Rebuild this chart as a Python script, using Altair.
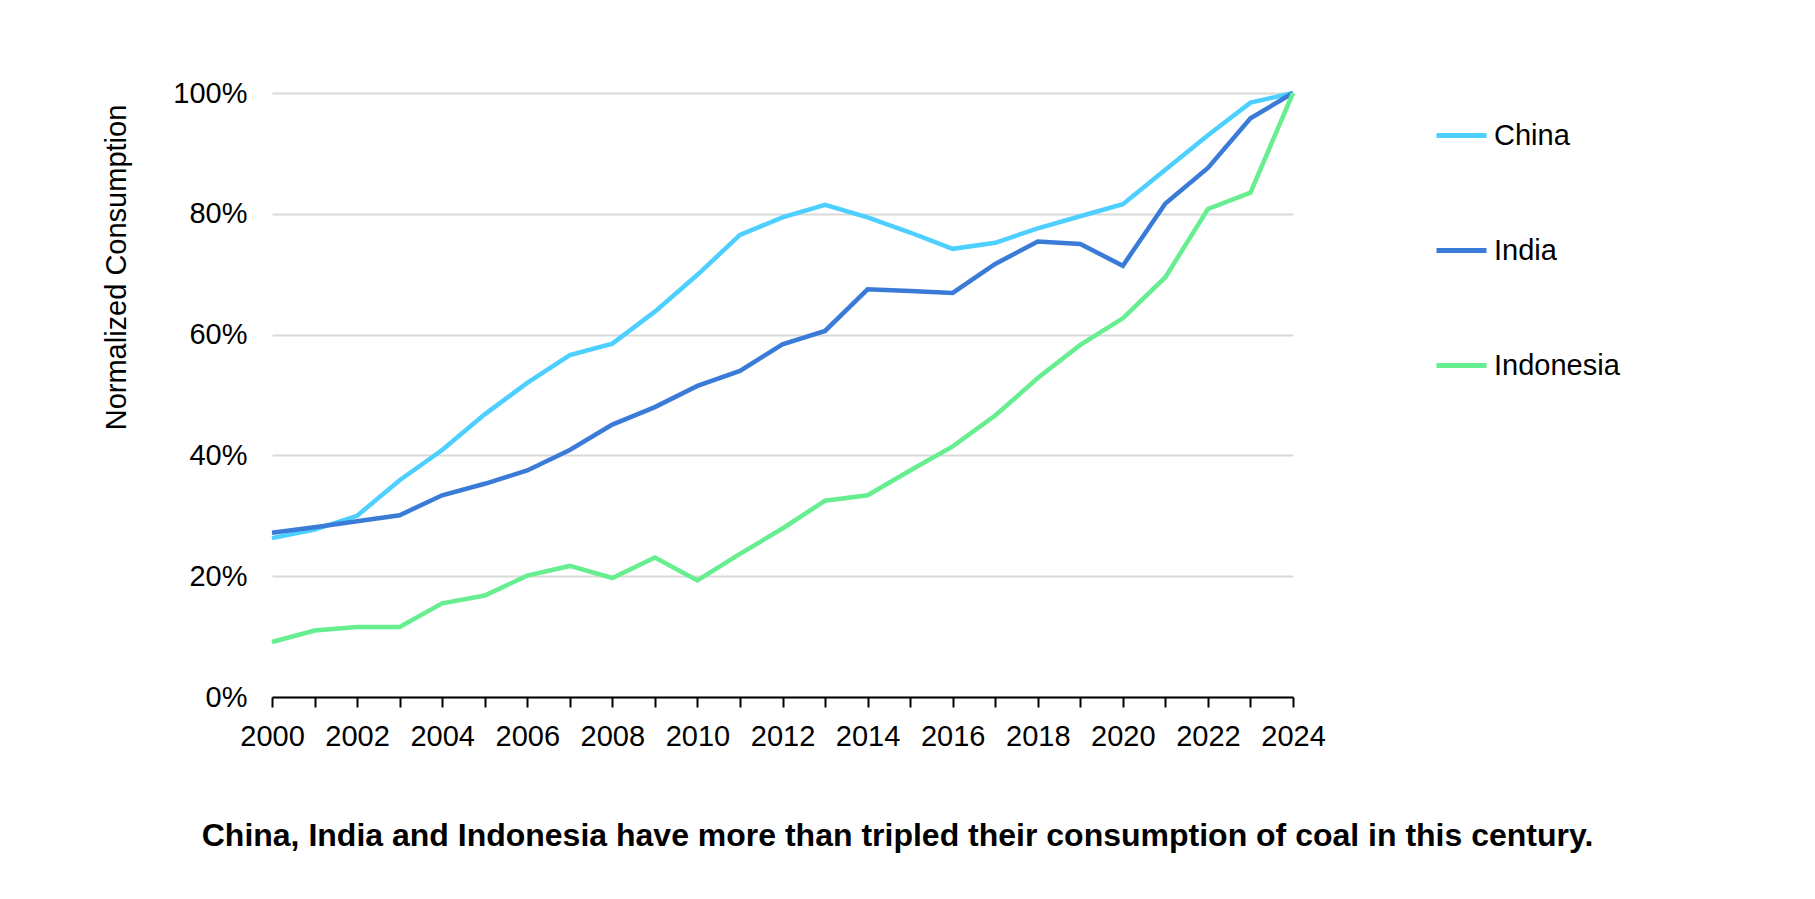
import altair as alt
import pandas as pd

years = list(range(2000, 2025))
china = [26.3, 27.7, 30.0, 35.9, 40.9, 46.8, 52.0, 56.6, 58.5, 63.8, 69.9, 76.5, 79.4,
         81.5, 79.4, 76.9, 74.2, 75.2, 77.6, 79.6, 81.6, 87.3, 93.0, 98.4, 100.0]
india = [27.2, 28.1, 29.1, 30.1, 33.4, 35.3, 37.5, 40.9, 45.1, 48.0, 51.5, 54.0, 58.4,
         60.6, 67.5, 67.2, 66.9, 71.7, 75.4, 75.0, 71.4, 81.7, 87.6, 95.8, 100.0]
indonesia = [9.1, 11.0, 11.6, 11.6, 15.5, 16.8, 20.1, 21.7, 19.7, 23.1, 19.3, 23.7, 27.9,
             32.5, 33.4, 37.5, 41.5, 46.6, 52.8, 58.3, 62.7, 69.5, 80.8, 83.5, 100.0]
countries = ["China", "India", "Indonesia"]
colors = ["#4dcfff", "#3a7bd8", "#66ee90"]
y_ticks = [0, 20, 40, 60, 80, 100]
title_text = "China, India and Indonesia have more than tripled their consumption of coal in this century."

rows = []
for name, series in zip(countries, [china, india, indonesia]):
    for yr, v in zip(years, series):
        rows.append({"Year": yr, "Value": v, "Country": name})
df = pd.DataFrame(rows)

FONT = "Liberation Sans"

chart = (
    alt.Chart(df)
    .mark_line(strokeWidth=4.5, strokeJoin="miter", clip=False)
    .encode(
        x=alt.X(
            "Year:Q",
            scale=alt.Scale(domain=[2000, 2024], nice=False, zero=False),
            axis=alt.Axis(
                title=None,
                values=years,
                labelExpr="datum.value % 2 == 0 ? datum.label : ''",
                format="d",
                grid=False,
                domainColor="#000000",
                domainWidth=2,
                tickColor="#000000",
                tickWidth=2,
                tickSize=10,
                labelPadding=15,
                labelFontSize=29,
                labelColor="#000000",
                labelFont=FONT,
                labelFlush=False,
                labelOverlap=False,
            ),
        ),
        y=alt.Y(
            "Value:Q",
            scale=alt.Scale(domain=[0, 100], nice=False),
            axis=alt.Axis(
                title="Normalized Consumption",
                values=y_ticks,
                labelExpr="datum.value + '%'",
                domain=False,
                ticks=False,
                tickSize=0,
                gridColor="#d9d9d9",
                gridWidth=2,
                labelPadding=25,
                labelFontSize=29,
                labelColor="#000000",
                labelFont=FONT,
                titleFont=FONT,
                titleFontSize=29,
                titleFontWeight="normal",
                titleColor="#000000",
                titleX=-156,
                titleY=174,
                titleAngle=-90,
                titleAlign="center",
                titleBaseline="middle",
            ),
        ),
        color=alt.Color(
            "Country:N",
            scale=alt.Scale(domain=countries, range=colors),
            legend=alt.Legend(
                title=None,
                orient="none",
                legendX=1162,
                legendY=15,
                symbolType="stroke",
                symbolSize=2500,
                symbolStrokeWidth=5,
                labelFontSize=29,
                labelFont=FONT,
                labelColor="#000000",
                labelOffset=5,
                rowPadding=72,
            ),
        ),
    )
    .properties(
        width=1021,
        height=604,
        background="#ffffff",
        autosize=alt.AutoSizeParams(type="none"),
        padding={"left": 264, "top": 85, "right": 514, "bottom": 194},
        title=alt.TitleParams(
            text=title_text,
            orient="bottom",
            anchor="middle",
            fontSize=32,
            fontWeight="bold",
            font=FONT,
            color="#000000",
            dx=115,
            offset=70,
        ),
    )
    .configure_view(stroke="transparent", strokeWidth=0)
)

chart.save("out.html", embed_options={"renderer": "svg", "actions": False})
